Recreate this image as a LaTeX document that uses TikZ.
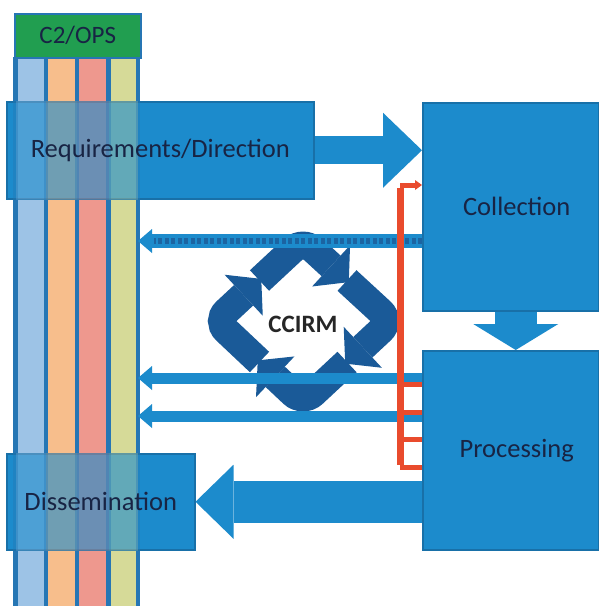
\documentclass[tikz,border=0pt]{standalone}
\usepackage{fontspec}
\setmainfont{Carlito}
\usetikzlibrary{arrows.meta,calc}
\definecolor{boxblue}{RGB}{28,139,204}
\definecolor{boxedge}{RGB}{24,112,168}
\definecolor{cycblue}{RGB}{26,90,152}
\definecolor{redline}{RGB}{233,75,45}
\definecolor{colA}{RGB}{157,195,230}
\definecolor{colB}{RGB}{247,190,140}
\definecolor{colC}{RGB}{238,152,142}
\definecolor{colD}{RGB}{214,218,152}
\definecolor{sepblue}{RGB}{38,118,180}
\definecolor{opsgreen}{RGB}{33,158,80}
\definecolor{navytext}{RGB}{24,36,68}
\newcommand\opscolumns{%
  \foreach \x/\w/\c in {15.5/30.5/colA,46/31/colB,77/31.5/colC,108.5/29.5/colD}
    \fill[\c] (\x,57) rectangle ++(\w,549);
  \foreach \x in {15.5,46,77,108.5,138}
    \draw[sepblue,line width=4.5pt] (\x,57) -- (\x,606);}
\begin{document}
\begin{tikzpicture}[x=1pt,y=-1pt,
    box/.style={draw=boxedge,line width=1.5pt,fill=boxblue,text=navytext,inner sep=0pt,
      anchor=north west,font=\fontsize{26.5}{30}\selectfont},
    bigarrow/.style n args={3}{boxblue,line width=#1,-{Triangle[width=#2,length=#3,line width=0pt]}},
    thinarrow/.style={boxblue,line width=11pt,-{Triangle[width=24pt,length=14pt,line width=0pt]}},
    cyclearrow/.style={cycblue,line width=28pt,rounded corners=14pt,
      -{Triangle[width=56pt,length=24pt,line width=0pt]}},
    tick/.style={redline,line width=5pt}]
  \fill[white] (0,0) rectangle (599,606);
  \useasboundingbox (0,0) rectangle (599,606);

  % Columns
  \opscolumns
  \node[box,fill=opsgreen,draw=sepblue,minimum width=126pt,minimum height=44pt,
    font=\fontsize{25}{28}\selectfont] (ops) at (14,13) {C2/OPS};

  % Boxes
  \node[box,minimum width=307pt,minimum height=97pt] (req) at (6,101) {};
  \node[box,minimum width=188pt,minimum height=96pt] (diss) at (6,453) {};
  \begin{scope}[opacity=0.38]
    \clip (req.north west) rectangle (req.south east)
          (diss.north west) rectangle (diss.south east);
    \opscolumns
  \end{scope}
  \node[text=navytext,font=\fontsize{26.5}{30}\selectfont] at (req.center) {Requirements/Direction};
  \node[text=navytext,font=\fontsize{26.5}{30}\selectfont] at (diss.center) {Dissemination};
  \node[box,minimum width=176pt,minimum height=208pt] (coll) at (422,102) {\hspace{12pt}Collection};
  \node[box,minimum width=176pt,minimum height=199pt] (proc) at (422,350) {\hspace{12pt}Processing};

  % Cycle
  \coordinate (L) at (216,321);
  \coordinate (T) at (303,240);
  \coordinate (R) at (391,321);
  \coordinate (B) at (303,403);
  \foreach \a/\b/\c in {B/L/T,L/T/R,T/R/B,R/B/L}
    \draw[cyclearrow] ($(\a)!0.5!(\b)$) -- (\b) -- ($(\b)!0.52!(\c)$);
  \node[font=\bfseries\fontsize{25}{28}\selectfont,text=black!85] (ccirm) at (303,324) {CCIRM};

  % Main flow
  \draw[bigarrow={28pt}{75pt}{39pt}] (req.east) -- (coll.west |- req.east);
  \draw[bigarrow={42pt}{85pt}{26pt}] ([xshift=5pt]coll.south) -- ([xshift=5pt]proc.north);
  \draw[bigarrow={42pt}{74pt}{38pt}] (proc.west |- diss.east) -- (diss.east);

  % Feedback to the columns
  \coordinate (tipA) at (138,241);
  \coordinate (tipB) at (138,378);
  \coordinate (tipC) at (138,416);
  \draw[thinarrow,line width=14pt] (coll.west |- tipA) -- (tipA);
  \draw[cycblue!80!boxblue,line width=6pt,dash pattern=on 4pt off 2.5pt]
    (coll.west |- tipA) -- ([xshift=16pt]tipA);
  \draw[thinarrow] (proc.west |- tipB) -- (tipB);
  \draw[thinarrow] (proc.west |- tipC) -- (tipC);

  % Bracket
  \coordinate (redtop) at (400,185);
  \coordinate (redbot) at (400,467);
  \draw[redline,line width=7pt] ([yshift=-2.5pt]redtop) -- ([yshift=2.5pt]redbot);
  \draw[tick,-{Triangle[width=10pt,length=7pt,line width=0pt]}] (redtop) -- (coll.west |- redtop);
  \foreach \y in {384,412,439,467}
    \draw[tick] (redtop |- 0,\y) -- (proc.west |- 0,\y);
\end{tikzpicture}
\end{document}
